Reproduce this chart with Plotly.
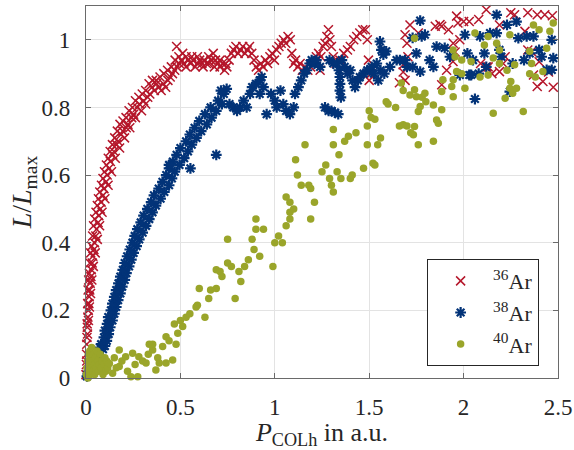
import plotly.graph_objects as go

# 36Ar: normalised luminescence vs. collimated power
ar36_x = [0.000, 0.002, 0.003, 0.004, 0.005, 0.007, 0.008, 0.010, 0.012, 0.013, 0.015, 0.017, 0.018, 0.020,
          0.022, 0.024, 0.026, 0.028, 0.031, 0.033, 0.036, 0.039, 0.042, 0.045, 0.049, 0.052, 0.056, 0.060,
          0.064, 0.068, 0.072, 0.076, 0.080, 0.085, 0.090, 0.095, 0.100, 0.106, 0.112, 0.117, 0.123, 0.129,
          0.135, 0.141, 0.148, 0.155, 0.162, 0.170, 0.178, 0.186, 0.195, 0.204, 0.213, 0.222, 0.232, 0.242,
          0.252, 0.262, 0.272, 0.283, 0.294, 0.305, 0.316, 0.327, 0.338, 0.350, 0.362, 0.374, 0.386, 0.398,
          0.410, 0.422, 0.434, 0.446, 0.458, 0.470, 0.482, 0.494, 0.480,
          0.004, 0.006, 0.009, 0.011, 0.014, 0.018, 0.021, 0.025, 0.030, 0.035, 0.040, 0.046, 0.053, 0.060,
          0.066, 0.073, 0.082, 0.090, 0.098, 0.108, 0.118, 0.128, 0.140, 0.152, 0.166, 0.180, 0.196, 0.212,
          0.228, 0.246, 0.262, 0.280, 0.298, 0.316, 0.334, 0.352, 0.372, 0.392, 0.412, 0.432, 0.452, 0.472,
          0.492, 0.512, 0.530, 0.560, 0.590, 0.620, 0.650, 0.680, 0.710, 0.740,
          0.506, 0.518, 0.530, 0.542, 0.554, 0.566, 0.578, 0.590, 0.602, 0.614, 0.626, 0.638, 0.650, 0.662,
          0.674, 0.686, 0.698, 0.710, 0.722, 0.734, 0.746, 0.758, 0.770, 0.782, 0.794, 0.806, 0.818, 0.830,
          0.842, 0.854, 0.866, 0.878, 0.890, 0.902, 0.914, 0.926, 0.938, 0.950, 0.962, 0.974, 0.986, 0.998,
          1.010, 1.022, 1.034, 1.046, 1.058, 1.070, 1.082, 1.090, 1.100, 1.110, 1.122, 1.134, 1.146, 1.160,
          1.175, 1.190, 1.205, 1.220, 1.232, 1.244, 1.256, 1.266, 1.276, 1.284, 1.292, 1.300, 1.240, 1.310,
          1.325, 1.345, 1.365, 1.385, 1.400, 1.418, 1.434, 1.450, 1.466, 1.480, 1.490, 1.496, 1.500, 1.510,
          1.660, 1.680, 1.680, 1.690, 1.700, 1.690, 1.716, 1.705, 1.760, 1.850, 1.875, 1.884, 1.920, 1.963,
          1.970, 2.000, 2.030, 2.080, 2.120, 2.190, 2.250, 2.270, 2.340, 2.390, 2.430, 2.470, 1.945, 1.955,
          2.325, 1.910, 1.884, 2.120, 2.190, 2.370, 2.420, 2.475, 2.390, 1.944, 2.210, 2.150, 2.400, 2.450,
          1.980, 2.090, 2.130, 2.340, 2.360, 2.220]
ar36_y = [0.01, 0.04, 0.07, 0.10, 0.12, 0.15, 0.13, 0.18, 0.20, 0.17, 0.22, 0.24, 0.21, 0.26,
          0.28, 0.25, 0.30, 0.32, 0.29, 0.34, 0.36, 0.33, 0.38, 0.40, 0.37, 0.42, 0.44, 0.41,
          0.46, 0.48, 0.45, 0.50, 0.52, 0.49, 0.54, 0.56, 0.53, 0.58, 0.60, 0.57, 0.62, 0.64,
          0.61, 0.66, 0.67, 0.65, 0.69, 0.70, 0.68, 0.72, 0.73, 0.71, 0.74, 0.75, 0.74, 0.77,
          0.78, 0.77, 0.80, 0.81, 0.79, 0.82, 0.81, 0.83, 0.84, 0.86, 0.85, 0.87, 0.86, 0.85,
          0.87, 0.86, 0.88, 0.89, 0.90, 0.91, 0.92, 0.93, 0.98,
          0.05, 0.16, 0.22, 0.26, 0.29, 0.31, 0.34, 0.37, 0.39, 0.42, 0.45, 0.47, 0.49, 0.51,
          0.53, 0.55, 0.57, 0.59, 0.61, 0.63, 0.65, 0.67, 0.69, 0.71, 0.73, 0.75, 0.76, 0.77,
          0.79, 0.80, 0.82, 0.83, 0.84, 0.85, 0.87, 0.88, 0.88, 0.89, 0.90, 0.91, 0.92, 0.94,
          0.95, 0.96, 0.92, 0.95, 0.95, 0.92, 0.93, 0.92, 0.94, 0.93,
          0.94, 0.93, 0.95, 0.94, 0.93, 0.94, 0.92, 0.93, 0.94, 0.93, 0.94, 0.93, 0.95, 0.94,
          0.96, 0.94, 0.93, 0.92, 0.93, 0.91, 0.92, 0.94, 0.96, 0.97, 0.98, 0.96, 0.97, 0.98,
          0.96, 0.97, 0.98, 0.96, 0.94, 0.92, 0.91, 0.93, 0.92, 0.94, 0.93, 0.95, 0.96, 0.94,
          0.97, 0.98, 0.99, 1.00, 0.99, 1.01, 1.00, 0.96, 0.93, 0.94, 0.92, 0.93, 0.91, 0.92,
          0.91, 0.92, 0.93, 0.95, 0.96, 0.95, 0.98, 0.99, 1.01, 1.03, 1.00, 0.98, 0.91, 0.95,
          0.93, 0.94, 0.96, 0.97, 0.98, 1.00, 1.01, 1.02, 1.03, 1.03, 1.00, 0.94, 0.88, 0.90,
          0.873, 0.926, 0.905, 0.880, 0.990, 1.015, 1.044, 0.950, 1.020, 1.040, 1.045, 1.040, 1.030, 1.070,
          1.050, 1.054, 1.054, 1.060, 1.089, 1.044, 1.080, 1.074, 1.080, 1.074, 1.074, 1.071, 0.990, 0.964,
          1.025, 0.910, 0.867, 0.920, 0.906, 0.896, 0.877, 0.860, 0.862, 0.936, 0.930, 0.900, 0.935, 0.905,
          1.000, 0.930, 0.920, 0.970, 0.965, 0.950]

# 38Ar
ar38_x = [0.005, 0.010, 0.015, 0.020, 0.030, 0.040, 0.050, 0.060, 0.065, 0.075, 0.090, 0.100,
          0.080, 0.110, 0.095, 0.120, 0.100, 0.128, 0.112, 0.140, 0.118, 0.150, 0.132, 0.160, 0.140, 0.170,
          0.150, 0.182, 0.160, 0.192, 0.172, 0.205, 0.182, 0.214, 0.195, 0.228, 0.205, 0.240, 0.218, 0.252,
          0.232, 0.268, 0.246, 0.282, 0.258, 0.300, 0.272, 0.318, 0.290, 0.335, 0.305, 0.352, 0.325, 0.370,
          0.345, 0.395, 0.360, 0.415, 0.385, 0.440, 0.405, 0.455, 0.425, 0.470, 0.440, 0.495, 0.460, 0.520,
          0.480, 0.540, 0.500, 0.560, 0.530, 0.585, 0.550, 0.610, 0.575, 0.640, 0.600, 0.665, 0.630, 0.690,
          0.660, 0.720, 0.700, 0.730, 0.745, 0.715, 0.553, 0.440,
          0.760, 0.780, 0.800, 0.816, 0.835, 0.851, 0.869, 0.880, 0.900, 0.920,
          0.930, 0.940, 0.920, 0.957, 0.690, 0.980, 1.000, 1.010, 1.030, 1.045, 1.060, 1.080, 1.100, 1.107,
          1.125, 1.140, 1.155, 1.170, 1.185, 1.195, 1.210, 1.220, 1.240, 1.266, 1.285, 1.300, 1.318, 1.336,
          1.290, 1.310, 1.330, 1.340, 1.345, 1.345, 1.345, 1.350, 1.355, 1.370, 1.385, 1.400, 1.412, 1.425,
          1.440, 1.450, 1.470, 1.490, 1.504, 1.513, 1.525, 1.540, 1.548, 1.557, 1.565, 1.575, 1.590, 1.560,
          1.580, 1.610, 1.645, 1.663, 1.690, 1.700, 1.730, 1.730, 1.750, 1.770, 1.770, 1.778, 1.795, 1.820,
          1.840, 1.857, 1.900, 1.928, 1.980, 2.007, 2.020, 2.030, 2.040, 2.050, 2.060, 2.087, 2.110, 2.140,
          2.175, 2.175, 2.190, 2.230, 2.245, 2.260, 2.280, 2.290, 2.334, 2.370, 2.400, 2.413, 2.440, 2.467,
          2.475, 2.467, 2.080, 2.120, 2.200, 2.350, 2.320]
ar38_y = [0.005, 0.010, 0.020, 0.030, 0.035, 0.040, 0.050, 0.060, 0.075, 0.090, 0.085, 0.095,
          0.10, 0.11, 0.12, 0.13, 0.14, 0.15, 0.16, 0.17, 0.18, 0.19, 0.20, 0.21, 0.22, 0.23,
          0.24, 0.25, 0.26, 0.27, 0.28, 0.29, 0.30, 0.31, 0.32, 0.33, 0.34, 0.35, 0.36, 0.37,
          0.38, 0.39, 0.40, 0.41, 0.42, 0.43, 0.44, 0.45, 0.46, 0.47, 0.48, 0.49, 0.50, 0.51,
          0.52, 0.53, 0.54, 0.55, 0.56, 0.57, 0.58, 0.59, 0.60, 0.61, 0.62, 0.63, 0.64, 0.65,
          0.66, 0.67, 0.68, 0.69, 0.70, 0.71, 0.72, 0.73, 0.74, 0.75, 0.76, 0.77, 0.78, 0.79,
          0.80, 0.81, 0.82, 0.84, 0.855, 0.85, 0.62, 0.63,
          0.81, 0.80, 0.79, 0.80, 0.82, 0.80, 0.84, 0.86, 0.87, 0.88,
          0.89, 0.86, 0.84, 0.78, 0.66, 0.84, 0.82, 0.80, 0.85, 0.81, 0.79, 0.78, 0.80, 0.84,
          0.86, 0.88, 0.90, 0.91, 0.93, 0.94, 0.93, 0.94, 0.92, 0.80, 0.79, 0.79, 0.785, 0.78,
          0.94, 0.93, 0.93, 0.91, 0.89, 0.87, 0.85, 0.83, 0.94, 0.92, 0.90, 0.91, 0.88, 0.86,
          0.88, 0.89, 0.90, 0.91, 0.91, 0.92, 0.90, 0.93, 0.88, 0.995, 0.97, 0.956, 0.966, 0.91,
          0.90, 0.92, 0.94, 0.94, 0.94, 0.92, 0.92, 1.006, 0.96, 1.057, 0.906, 1.010, 1.015, 0.94,
          0.92, 0.98, 0.976, 0.95, 0.896, 1.015, 0.96, 0.896, 0.896, 0.94, 0.825, 1.010, 0.96, 1.020,
          1.074, 1.020, 0.97, 1.044, 0.847, 0.93, 1.054, 1.005, 1.010, 1.010, 0.97, 0.95, 0.911, 0.911,
          0.946, 1.000, 0.90, 0.92, 0.95, 0.96, 0.94]

# 40Ar
ar40_x = [0.002, 0.005, 0.008, 0.010, 0.012, 0.015, 0.018, 0.020, 0.022, 0.025, 0.028, 0.030, 0.033,
          0.036, 0.040, 0.043, 0.046, 0.050, 0.054, 0.058, 0.062, 0.066, 0.070, 0.075, 0.080, 0.085,
          0.090, 0.095, 0.100, 0.105, 0.110, 0.115, 0.124, 0.141, 0.150, 0.160, 0.176, 0.176, 0.190,
          0.210, 0.220, 0.238, 0.247, 0.260, 0.274, 0.280, 0.300, 0.318, 0.330, 0.335, 0.353, 0.353,
          0.370, 0.380, 0.388, 0.406, 0.424, 0.424, 0.440, 0.459, 0.468, 0.477, 0.486, 0.500, 0.512,
          0.530, 0.550, 0.583, 0.590, 0.600, 0.630, 0.650, 0.660, 0.690, 0.690, 0.710, 0.720, 0.750,
          0.750, 0.770, 0.790, 0.810, 0.820, 0.840, 0.860, 0.880, 0.890, 0.900, 0.900, 0.920, 0.940,
          0.990, 1.000, 1.020, 1.040, 1.060, 1.060, 1.080, 1.080, 1.080, 1.100, 1.110, 1.120, 1.140,
          1.160, 1.180, 1.190, 1.190, 1.210, 1.250, 1.270, 1.290, 1.300, 1.310, 1.310, 1.310, 1.330,
          1.340, 1.350, 1.370, 1.390, 1.400, 1.410, 1.430, 1.470, 1.490, 1.490, 1.500, 1.510, 1.520,
          1.530, 1.545, 1.530, 1.560, 1.590, 1.600, 1.640, 1.660, 1.670, 1.680, 1.680, 1.700, 1.716,
          1.720, 1.734, 1.740, 1.740, 1.740, 1.750, 1.760, 1.760, 1.770, 1.780, 1.795, 1.800, 1.840,
          1.840, 1.857, 1.866, 1.884, 1.884, 1.890, 1.937, 1.945, 1.945, 1.944, 1.955, 1.963, 1.990,
          1.990, 2.007, 2.040, 2.060, 2.087, 2.110, 2.130, 2.130, 2.157, 2.157, 2.175, 2.190, 2.190,
          2.220, 2.230, 2.245, 2.245, 2.250, 2.260, 2.270, 2.280, 2.316, 2.350, 2.350, 2.360, 2.370,
          2.380, 2.400, 2.420, 2.440, 2.457, 2.475]
ar40_y = [0.010, 0.030, 0.050, 0.000, 0.070, 0.020, 0.040, 0.080, 0.010, 0.060, 0.030, 0.090, 0.050,
          0.020, 0.070, 0.040, 0.010, 0.060, 0.030, 0.080, 0.050, 0.020, 0.040, 0.070, 0.030, 0.050,
          0.010, 0.040, 0.060, 0.020, 0.050, 0.030, 0.043, 0.014, 0.060, 0.030, 0.083, 0.034, 0.050,
          0.063, 0.020, 0.004, 0.073, 0.040, 0.004, 0.063, 0.050, 0.044, 0.070, 0.100, 0.083, 0.100,
          0.024, 0.060, 0.044, 0.093, 0.122, 0.044, 0.110, 0.053, 0.160, 0.100, 0.132, 0.170, 0.152,
          0.180, 0.190, 0.210, 0.215, 0.265, 0.180, 0.235, 0.260, 0.265, 0.320, 0.315, 0.300, 0.410,
          0.340, 0.330, 0.235, 0.315, 0.285, 0.330, 0.350, 0.410, 0.380, 0.440, 0.470, 0.360, 0.440,
          0.330, 0.400, 0.420, 0.400, 0.450, 0.535, 0.470, 0.490, 0.520, 0.500, 0.645, 0.600, 0.570,
          0.690, 0.570, 0.560, 0.470, 0.520, 0.610, 0.630, 0.590, 0.570, 0.550, 0.690, 0.735, 0.610,
          0.660, 0.590, 0.700, 0.715, 0.590, 0.600, 0.725, 0.620, 0.690, 0.745, 0.790, 0.770, 0.635,
          0.630, 0.690, 0.765, 0.710, 0.817, 0.810, 0.800, 0.745, 0.872, 0.749, 0.850, 0.745, 0.837,
          0.725, 0.719, 1.005, 0.852, 0.744, 0.832, 0.690, 0.788, 0.803, 0.830, 0.842, 0.817, 0.807,
          0.700, 0.763, 0.753, 0.793, 0.847, 0.882, 0.862, 0.882, 0.832, 0.970, 0.950, 0.906, 0.940,
          0.900, 0.857, 0.936, 1.020, 0.890, 0.985, 1.010, 0.896, 0.946, 0.783, 0.990, 0.970, 0.930,
          0.827, 0.910, 1.015, 0.857, 0.877, 0.842, 0.926, 0.857, 0.788, 0.966, 0.900, 0.930, 1.044,
          0.890, 1.030, 0.906, 0.975, 1.025, 1.050]

series_names = ["<sup>36</sup>Ar", "<sup>38</sup>Ar", "<sup>40</sup>Ar"]
x_ticks = [0, 0.5, 1, 1.5, 2, 2.5]
y_ticks = [0, 0.2, 0.4, 0.6, 0.8, 1]

RED = "#B5172B"
BLUE = "#023378"
OLIVE = "#9AA52A"
FONT = "Liberation Serif"
AXIS = "#6a6a6a"
TEXT = "#262626"

fig = go.Figure()
fig.add_trace(go.Scatter(
    x=ar36_x, y=ar36_y, mode="markers", name=series_names[0], cliponaxis=False,
    marker=dict(symbol="x-thin-open", size=9, color=RED, line=dict(color=RED, width=1.5)),
))
fig.add_trace(go.Scatter(
    x=ar38_x, y=ar38_y, mode="markers", name=series_names[1], cliponaxis=False,
    marker=dict(symbol="asterisk-open", size=9, color=BLUE, line=dict(color=BLUE, width=2.2)),
))
fig.add_trace(go.Scatter(
    x=ar40_x, y=ar40_y, mode="markers", name=series_names[2], cliponaxis=False,
    marker=dict(symbol="circle", size=7.5, color=OLIVE, line=dict(width=0)),
))

axis_common = dict(
    showgrid=True, gridcolor="#e3e3e3", gridwidth=1,
    showline=True, linecolor=AXIS, linewidth=1.2, mirror="ticks",
    ticks="inside", ticklen=5, tickcolor=AXIS, tickwidth=1,
    zeroline=False, automargin=False,
    tickfont=dict(family=FONT, size=23, color=TEXT),
)

fig.update_layout(
    width=574, height=450, autosize=False,
    margin=dict(l=86, r=16, t=6, b=72),
    paper_bgcolor="white", plot_bgcolor="white",
    font=dict(family=FONT, color=TEXT),
    xaxis=dict(range=[0, 2.5], tickvals=x_ticks, ticktext=[f"{v:g}" for v in x_ticks],
               ticklabelstandoff=8,
               title=dict(text="<i>P</i><sub>COLh</sub> in a.u.", font=dict(family=FONT, size=26), standoff=4),
               **axis_common),
    yaxis=dict(range=[0, 1.1], tickvals=y_ticks, ticktext=[f"{v:g}" for v in y_ticks],
               ticklabelstandoff=10,
               title=dict(text="<i>L</i>/<i>L</i><sub>max</sub>", font=dict(family=FONT, size=28), standoff=1),
               **axis_common),
    legend=dict(
        x=0.96, y=0.032, xanchor="right", yanchor="bottom",
        bgcolor="white", bordercolor=TEXT, borderwidth=1,
        font=dict(family=FONT, size=22, color=TEXT),
        itemwidth=55, tracegroupgap=0,
    ),
    showlegend=True,
)

fig.write_html("out.html")
